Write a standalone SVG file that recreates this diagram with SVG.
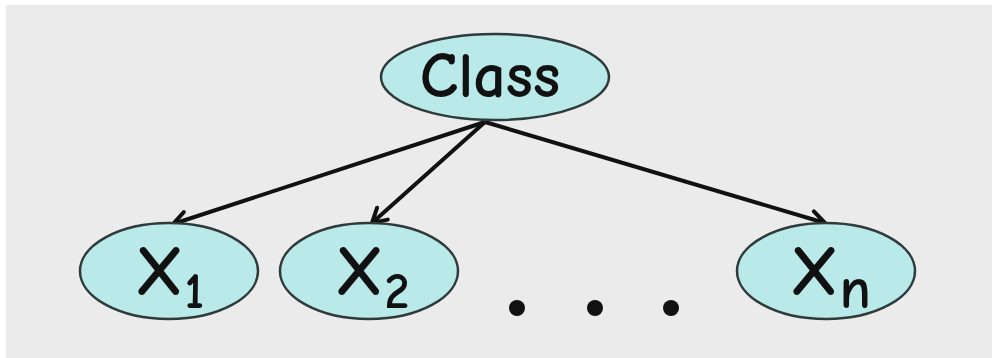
<svg xmlns="http://www.w3.org/2000/svg" width="992" height="358" viewBox="0 0 992 358">
  <style>
    .node { fill: #b9e9e9; stroke: #2f3a3a; stroke-width: 2.5; }
    .label { font-family: "Comic Neue", "Liberation Sans", "DejaVu Sans", sans-serif; font-weight: 700; fill: #111; }
    .edge { stroke: #111; stroke-width: 4; fill: none; marker-end: url(#arrow); }
    .dot { fill: #111; }
  </style>
  <defs>
    <marker id="arrow" viewBox="0 0 20 20" refX="17" refY="10" markerWidth="20" markerHeight="20" markerUnits="userSpaceOnUse" orient="auto">
      <path d="M3,2 L17,10 L3,18" fill="none" stroke="#111" stroke-width="4" stroke-linecap="round" stroke-linejoin="round"/>
    </marker>
  </defs>
  <rect x="0" y="0" width="992" height="358" fill="#ffffff"/>
  <rect x="6" y="5" width="986" height="353" fill="#ebebeb"/>

  <g id="edges">
    <line class="edge" x1="485" y1="122" x2="173" y2="224"/>
    <line class="edge" x1="485" y1="122" x2="372" y2="223"/>
    <line class="edge" x1="485" y1="122" x2="825" y2="223"/>
  </g>

  <g id="node-class">
    <ellipse class="node" cx="495" cy="77" rx="114" ry="43"/>
    <text class="label" x="490" y="97" font-size="64" text-anchor="middle">Class</text>
  </g>

  <g id="node-x1">
    <ellipse class="node" cx="169" cy="271" rx="89" ry="48"/>
    <text class="label" x="135" y="295" font-size="70">X<tspan font-size="50" dy="13">1</tspan></text>
  </g>

  <g id="node-x2">
    <ellipse class="node" cx="369" cy="271" rx="89" ry="48"/>
    <text class="label" x="335" y="295" font-size="70">X<tspan font-size="50" dy="13">2</tspan></text>
  </g>

  <g id="node-xn">
    <ellipse class="node" cx="826" cy="271" rx="89" ry="48"/>
    <text class="label" x="790" y="295" font-size="70">X<tspan font-size="58" dy="13">n</tspan></text>
  </g>

  <g id="ellipsis">
    <circle class="dot" cx="517" cy="308" r="8"/>
    <circle class="dot" cx="595" cy="308" r="8"/>
    <circle class="dot" cx="671" cy="308" r="8"/>
  </g>
</svg>
